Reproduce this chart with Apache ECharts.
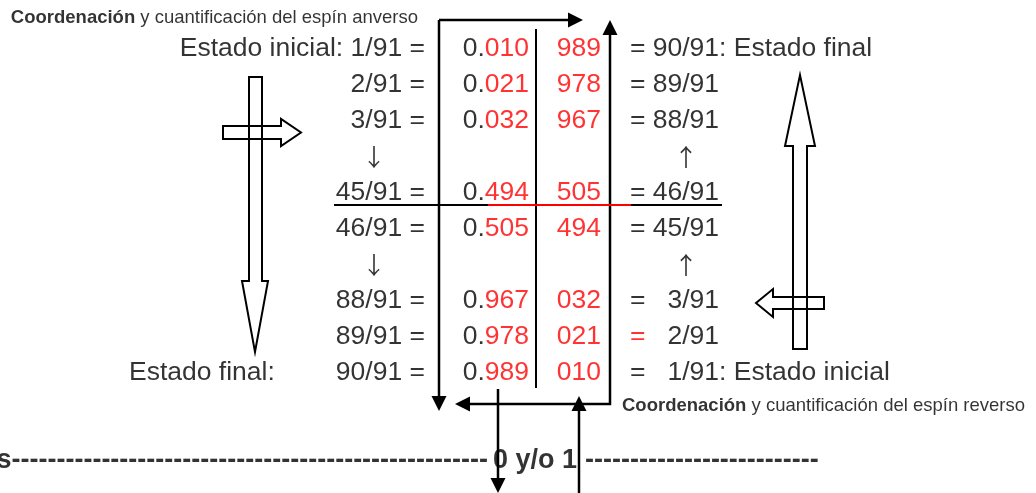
<!DOCTYPE html>
<html><head><meta charset="utf-8">
<script src="https://cdn.jsdelivr.net/npm/echarts@6/dist/echarts.min.js"></script>
<style>html,body{margin:0;padding:0;background:#fff}#c{width:1036px;height:493px}</style>
</head><body><div id="c"></div>
<script>
// ---- data ----
const rows = ['r1','r2','r3','r4','r5','r6','r7','r8','r9','r10'];
const leftFractions = ['1/91','2/91','3/91',null,'45/91','46/91',null,'88/91','89/91','90/91'];
const decimalDigits = ['010','021','032',null,'494','505',null,'967','978','989'];
const complementDigits = ['989','978','967',null,'505','494',null,'032','021','010'];
const rightFractions = ['90/91','89/91','88/91',null,'46/91','45/91',null,'3/91','2/91','1/91'];
const arrowRows = ['r4','r7'];
const redEqualsRows = ['r9'];
const startLabel = 'Estado inicial';
const endLabel = 'Estado final';
const topNote = ['Coordenación', ' y cuantificación del espín anverso'];
const bottomNote = ['Coordenación', ' y cuantificación del espín reverso'];
const axisText = ['s', '0 y/o 1'];

// ---- layout ----
const FONT = "'Liberation Sans', Arial, sans-serif";
const BIG = 26.5, SMALL = 18.5, BOLD = 27;
const COL = {startEnd:129, left:425, down:374, dec:529, comp:601, eq:630, frac:719, up:686};

const rich = {
  n:{fontFamily:FONT, fontSize:BIG, color:'#000'},
  r:{fontFamily:FONT, fontSize:BIG, color:'#f00'},
  a:{fontFamily:"'Noto Sans CJK JP', 'DejaVu Sans', sans-serif", fontSize:24, color:'#000'},
  sb:{fontFamily:FONT, fontSize:SMALL, color:'#000', fontWeight:'bold'},
  s:{fontFamily:FONT, fontSize:SMALL, color:'#000'},
  bb:{fontFamily:FONT, fontSize:BOLD, color:'#000', fontWeight:'bold'}
};

function textSeries(grid, items, align){
  return {
    type:'scatter', xAxisIndex:grid, yAxisIndex:grid, symbolSize:1,
    itemStyle:{color:'rgba(0,0,0,0)'}, silent:true, animation:false,
    data: items,
    label:{show:true, position:'inside', align:align, verticalAlign:'middle',
      color:'#000', textBorderWidth:0, formatter:p=>p.data.text, rich:rich}
  };
}

const leftItems = [], decItems = [], compItems = [], eqItems = [], fracItems = [], suffixItems = [];
rows.forEach((r,i)=>{
  if (leftFractions[i]) leftItems.push({value:[COL.left,r], text:(i===0?'{n|'+startLabel+': }':'')+'{n|'+leftFractions[i]+' =}'});
  if (decimalDigits[i]) decItems.push({value:[COL.dec,r], text:'{n|0.}{r|'+decimalDigits[i]+'}'});
  if (complementDigits[i]) compItems.push({value:[COL.comp,r], text:'{r|'+complementDigits[i]+'}'});
  if (rightFractions[i]) {
    eqItems.push({value:[COL.eq,r], text: redEqualsRows.includes(r)?'{r|=}':'{n|=}'});
    fracItems.push({value:[COL.frac,r], text:'{n|'+rightFractions[i]+'}'});
  }
});
suffixItems.push({value:[COL.frac,rows[0]], text:'{n|: '+endLabel+'}'});
suffixItems.push({value:[COL.frac,rows[9]], text:'{n|: '+startLabel+'}'});
const startEndItems = [{value:[COL.startEnd,rows[9]], text:'{n|'+endLabel+':}'}];
const arrowItems = [];
arrowRows.forEach(r=>{
  arrowItems.push({value:[COL.down,r], text:'{a|↓}'});
  arrowItems.push({value:[COL.up,r], text:'{a|↑}'});
});

// free text on pixel grid
const noteRight = [{value:[418,18], text:'{sb|'+topNote[0]+'}{s|'+topNote[1]+'}'}];
const noteLeft = [{value:[622,406], text:'{sb|'+bottomNote[0]+'}{s|'+bottomNote[1]+'}'},
  {value:[493,461], text:'{bb|'+axisText[1]+'}'},
  {value:[585,461], text:'{bb|'+'-'.repeat(26)+'}'}];
const axisLeft = [{value:[488,461], text:'{bb|'+axisText[0]+'-'.repeat(53)+'}'}];

// decorations (pixel units)
const shapes = [
  {t:'line', pts:[[439,20],[439,397]], w:2.5},
  {t:'line', pts:[[439,20],[569,20]], w:2.5},
  {t:'head', tip:[583,20], dir:'r'},
  {t:'head', tip:[439,411], dir:'d'},
  {t:'line', pts:[[610,34],[610,404],[469,404]], w:2.5},
  {t:'head', tip:[610,20], dir:'u'},
  {t:'head', tip:[455,404], dir:'l'},
  {t:'line', pts:[[536,29],[536,388]], w:2},
  {t:'line', pts:[[334,205],[488,205]], w:2},
  {t:'line', pts:[[488,205],[631,205]], w:2, c:'#f00'},
  {t:'line', pts:[[631,205],[722,205]], w:2},
  {t:'line', pts:[[498,389],[498,479]], w:2.5},
  {t:'head', tip:[498,493], dir:'d'},
  {t:'line', pts:[[579,493],[579,410]], w:2.5},
  {t:'head', tip:[579,396], dir:'u'},
  {t:'block', pts:[[249,77],[262,77],[262,281],[268,281],[255,352],[242,281],[249,281]]},
  {t:'block', pts:[[223,126],[281,126],[281,119],[301,132.5],[281,146],[281,139],[223,139]]},
  {t:'block', pts:[[793,349],[793,146],[785,146],[800,75],[815,146],[807,146],[807,349]]},
  {t:'block', pts:[[824,297],[773,297],[773,289],[756,303],[773,317],[773,309],[824,309]]}
];
function headPts(tip, dir){
  const L=15, H=7.5, [x,y]=tip;
  if (dir==='r') return [[x,y],[x-L,y-H],[x-L,y+H]];
  if (dir==='l') return [[x,y],[x+L,y-H],[x+L,y+H]];
  if (dir==='d') return [[x,y],[x-H,y-L],[x+H,y-L]];
  return [[x,y],[x-H,y+L],[x+H,y+L]];
}

const chart = echarts.init(document.getElementById('c'));
chart.setOption({
  backgroundColor:'#fff',
  animation:false,
  grid:[{left:0,right:0,top:0,bottom:0},{left:0,right:0,top:31,height:360}],
  xAxis:[{type:'value',min:0,max:1036,show:false,gridIndex:0},{type:'value',min:0,max:1036,show:false,gridIndex:1}],
  yAxis:[{type:'value',min:0,max:493,inverse:true,show:false,gridIndex:0},
         {type:'category',data:rows,inverse:true,show:false,gridIndex:1}],
  series:[
    {type:'custom', xAxisIndex:0, yAxisIndex:0, silent:true, clip:false,
      data: shapes.map(()=>[0,0]),
      renderItem:(params, api)=>{
        const s = shapes[params.dataIndex];
        if (s.t==='line') return {type:'polyline', shape:{points:s.pts.map(p=>api.coord(p))},
          style:{stroke:s.c||'#000', lineWidth:s.w, fill:null}};
        if (s.t==='head') return {type:'polygon', shape:{points:headPts(s.tip,s.dir).map(p=>api.coord(p))},
          style:{fill:'#000', stroke:null}};
        return {type:'polygon', shape:{points:s.pts.map(p=>api.coord(p))},
          style:{fill:null, stroke:'#000', lineWidth:2}};
      }},
    textSeries(1, leftItems, 'right'),
    textSeries(1, decItems, 'right'),
    textSeries(1, compItems, 'right'),
    textSeries(1, eqItems, 'left'),
    textSeries(1, fracItems, 'right'),
    textSeries(1, suffixItems, 'left'),
    textSeries(1, startEndItems, 'left'),
    textSeries(1, arrowItems, 'center'),
    textSeries(0, noteRight, 'right'),
    textSeries(0, noteLeft, 'left'),
    textSeries(0, axisLeft, 'right')
  ]
});
</script></body></html>
